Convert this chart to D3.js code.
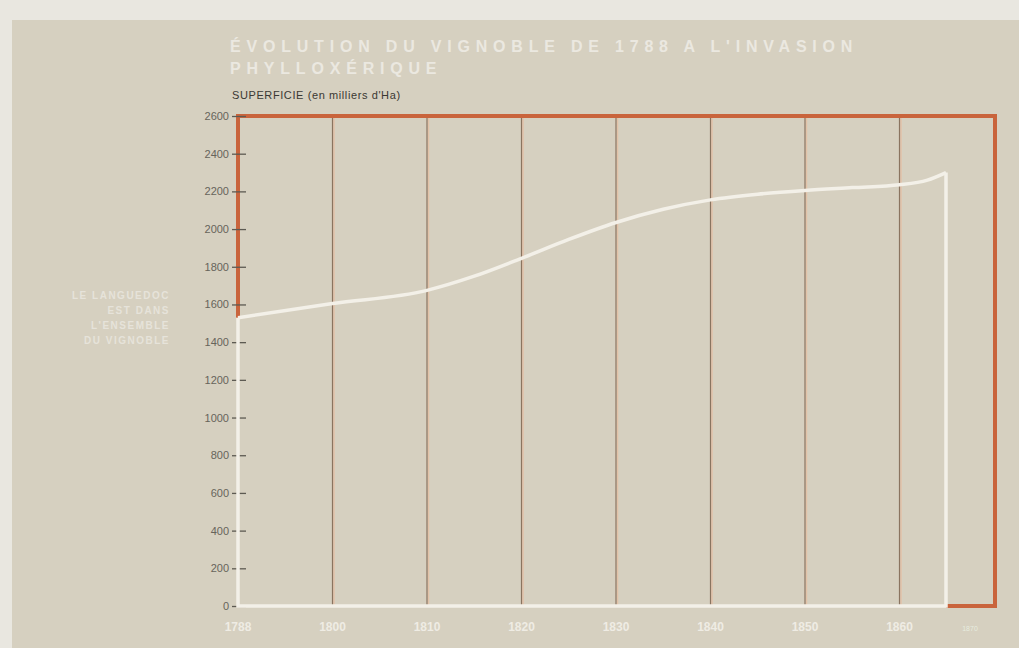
<!DOCTYPE html>
<html>
<head>
<meta charset="utf-8">
<script src="https://cdn.jsdelivr.net/npm/d3@7"></script>
<style>
  body { margin: 0; background: #e8e6df; }
  svg { display: block; }
</style>
</head>
<body>
<svg id="chart"></svg>
<script>
// data
const yearTicks = [1788, 1800, 1810, 1820, 1830, 1840, 1850, 1860];
const years = [1788, 1800, 1810, 1815, 1820, 1825, 1830, 1835, 1840, 1845, 1850, 1855, 1860, 1863, 1865];
const surface = [1530, 1605, 1675, 1750, 1845, 1945, 2035, 2105, 2155, 2185, 2205, 2220, 2235, 2260, 2300];
const yTicks = [0, 200, 400, 600, 800, 1000, 1200, 1400, 1600, 1800, 2000, 2200, 2400, 2600];
const endYear = 1865;
const frameEndYear = 1870;
const sideText = ["LE LANGUEDOC", "EST DANS", "L'ENSEMBLE", "DU VIGNOBLE"];

const W = 1019, H = 648;
const bg = '#d6d0c0';
const orange = '#c9643c';
const white = '#f3f0e8';

const svg = d3.select('#chart').attr('width', W).attr('height', H);

// scanned page background
svg.append('rect').attr('width', W).attr('height', H).attr('fill', '#e9e7e0');
svg.append('rect').attr('x', 12).attr('y', 20).attr('width', W - 12).attr('height', H - 20).attr('fill', bg);

// x positions are evenly spaced per label, not linear in years
const xPos = yearTicks.map((d, i) => 238 + i * 94.5);
const x = d3.scaleLinear()
  .domain(yearTicks.concat([endYear, frameEndYear]))
  .range(xPos.concat([946, 995]));
const y = d3.scaleLinear().domain([0, 2600]).range([606, 116]);

// vertical grid lines
const grid = svg.append('g');
yearTicks.slice(1).forEach(d => {
  grid.append('line')
    .attr('x1', x(d) + 1.5).attr('x2', x(d) + 1.5)
    .attr('y1', y(2600)).attr('y2', y(0))
    .attr('stroke', '#e2c2a8').attr('stroke-width', 1.5);
  grid.append('line')
    .attr('x1', x(d)).attr('x2', x(d))
    .attr('y1', y(2600)).attr('y2', y(0))
    .attr('stroke', '#8a7460').attr('stroke-width', 1.2);
});

// orange frame
svg.append('path')
  .attr('d', d3.line()([
    [x(1788), y(surface[0])],
    [x(1788), y(2600)],
    [x(frameEndYear), y(2600)],
    [x(frameEndYear), y(0)],
    [x(endYear), y(0)]
  ]))
  .attr('fill', 'none').attr('stroke', orange).attr('stroke-width', 4)
  .attr('stroke-linejoin', 'miter');

// y axis ticks
const yAxis = d3.axisLeft(y).tickValues(yTicks).tickFormat(d3.format('d')).tickSize(14).tickPadding(3);
const ya = svg.append('g').attr('transform', 'translate(246,0)').call(yAxis);
ya.select('.domain').remove();
ya.selectAll('.tick line').attr('stroke', '#5d5a52').attr('stroke-width', 1.3);
ya.selectAll('.tick text')
  .attr('fill', '#67645b')
  .style('font-family', '"Liberation Sans Narrow", "Liberation Sans", sans-serif')
  .style('font-size', '11px');

// white outline: left axis below frame, baseline, right drop
svg.append('path')
  .attr('d', d3.line()([
    [x(1788), y(surface[0])],
    [x(1788), y(0)],
    [x(endYear), y(0)],
    [x(endYear), y(surface[surface.length - 1])]
  ]))
  .attr('fill', 'none').attr('stroke', white).attr('stroke-width', 3.5);

// surface curve
const line = d3.line()
  .x((d, i) => x(years[i]))
  .y(d => y(d))
  .curve(d3.curveMonotoneX);
svg.append('path')
  .datum(surface)
  .attr('d', line)
  .attr('fill', 'none').attr('stroke', white).attr('stroke-width', 3.5);

// x labels
svg.append('g').selectAll('text')
  .data(yearTicks)
  .join('text')
  .attr('x', d => x(d)).attr('y', 631)
  .attr('text-anchor', 'middle')
  .attr('fill', '#efece4')
  .style('font-family', '"Liberation Sans Narrow", "Liberation Sans", sans-serif')
  .style('font-weight', 'bold')
  .style('font-size', '12px')
  .text(d => d);
svg.append('text')
  .attr('x', 970).attr('y', 631).attr('text-anchor', 'middle')
  .attr('fill', '#e6ecdf').style('font-size', '7px')
  .style('font-family', '"Liberation Sans", sans-serif')
  .text('1870');

// title
const title = svg.append('text')
  .attr('fill', '#ebe8e0')
  .style('font-family', '"Liberation Sans", sans-serif')
  .style('font-weight', 'bold')
  .style('font-size', '16px')
  .style('letter-spacing', '5.8px');
title.append('tspan').attr('x', 230).attr('y', 52).text("ÉVOLUTION DU VIGNOBLE DE 1788 A L'INVASION");
title.append('tspan').attr('x', 230).attr('y', 74).text('PHYLLOXÉRIQUE');

svg.append('text')
  .attr('x', 232).attr('y', 99)
  .attr('fill', '#3a3833')
  .style('font-family', '"Liberation Sans", sans-serif')
  .style('font-size', '11px')
  .style('letter-spacing', '0.6px')
  .text("SUPERFICIE  (en milliers d'Ha)");

// side note
svg.append('g').selectAll('text')
  .data(sideText)
  .join('text')
  .attr('x', 170).attr('y', (d, i) => 299 + i * 15)
  .attr('text-anchor', 'end')
  .attr('fill', '#e6e3da')
  .style('font-family', '"Liberation Sans", sans-serif')
  .style('font-weight', 'bold')
  .style('font-size', '10px')
  .style('letter-spacing', '1.5px')
  .text(d => d);
</script>
</body>
</html>
